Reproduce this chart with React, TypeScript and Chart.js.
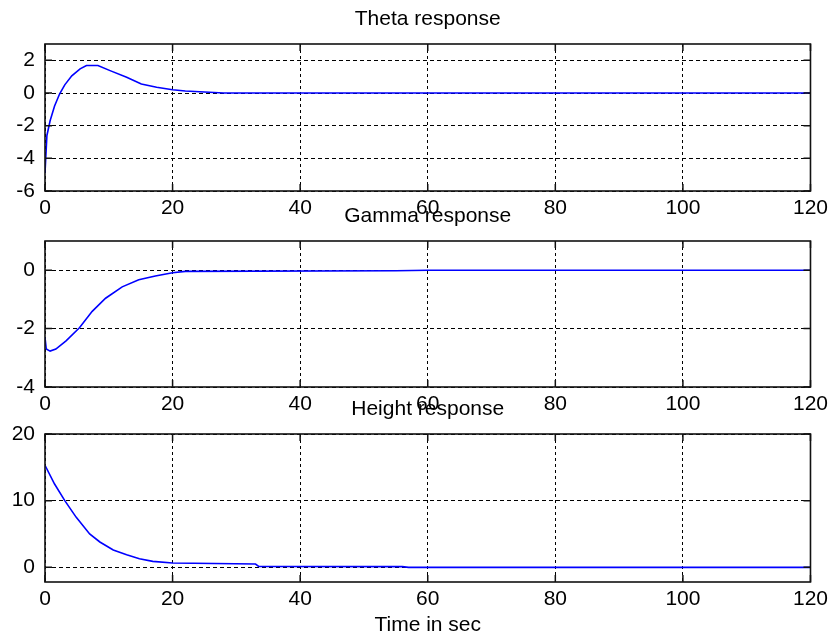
import React, { useEffect, useRef } from "react";
import { Chart, registerables } from "chart.js";

Chart.register(...registerables);

// ---- data ----
const thetaTime = [0, 0.3, 0.8, 1.5, 2.3, 3.1, 4.2, 5.5, 6.5, 8.3, 10.2, 12.8, 15.1, 17.5, 20, 22, 28, 120];
const thetaValue = [-4.9, -2.6, -1.7, -0.8, -0.05, 0.5, 1.05, 1.48, 1.68, 1.68, 1.37, 0.97, 0.55, 0.35, 0.2, 0.12, 0, 0];

const gammaTime = [0, 0.2, 0.8, 1.7, 3.3, 5.4, 7.4, 9.5, 12.1, 14.7, 17.3, 20, 22, 55, 60, 120];
const gammaValue = [-2.3, -2.7, -2.77, -2.7, -2.42, -1.97, -1.41, -0.96, -0.57, -0.33, -0.2, -0.09, -0.04, -0.02, 0, 0];

const heightTime = [0, 1.5, 3.1, 4.9, 7, 8.6, 10.7, 12.8, 14.8, 16.9, 20, 33, 33.5, 56, 57, 120];
const heightValue = [15.3, 12.5, 10, 7.5, 5, 3.8, 2.6, 1.9, 1.3, 0.9, 0.64, 0.5, 0.15, 0.1, 0, 0];

const titles = ["Theta response", "Gamma response", "Height response"];
const xLabel = "Time in sec";
const xRange = [0, 120];
const xStep = 20;
const thetaRange = [-6, 3];
const gammaRange = [-4, 1];
const heightRange = [-2.2, 20];
const yySteps = [2, 2, 10];

const FONT_FAMILY = '"Liberation Sans", Arial, Helvetica, sans-serif';
const FONT_SIZE = 21;

const framePlugin = {
  id: "matlabFrame",
  afterDatasetsDraw(chart: any, _args: any, opts: any) {
    const { ctx, chartArea: a, scales } = chart;
    const x = scales.x;
    const y = scales.y;
    ctx.save();
    ctx.strokeStyle = "#111";
    ctx.lineWidth = 1.6;
    ctx.setLineDash([]);
    ctx.strokeRect(a.left, a.top, a.right - a.left, a.bottom - a.top);
    ctx.lineWidth = 1.5;
    ctx.beginPath();
    x.ticks.forEach((t: any) => {
      const px = x.getPixelForValue(t.value);
      ctx.moveTo(px, a.bottom);
      ctx.lineTo(px, a.bottom - 7);
      ctx.moveTo(px, a.top);
      ctx.lineTo(px, a.top + 7);
    });
    y.ticks.forEach((t: any) => {
      const py = y.getPixelForValue(t.value);
      ctx.moveTo(a.left, py);
      ctx.lineTo(a.left + 7, py);
      ctx.moveTo(a.right, py);
      ctx.lineTo(a.right - 7, py);
    });
    ctx.stroke();
    ctx.fillStyle = "#000";
    ctx.font = `${FONT_SIZE}px ${FONT_FAMILY}`;
    ctx.textAlign = "center";
    ctx.textBaseline = "middle";
    const cx = (a.left + a.right) / 2;
    if (opts.title) ctx.fillText(opts.title, cx, a.top - 25);
    if (opts.xlabel) ctx.fillText(opts.xlabel, cx, a.bottom + 43);
    ctx.restore();
  },
};

function buildConfig(
  time: number[],
  values: number[],
  yRange: number[],
  yStep: number,
  title: string,
  xlabel: string | null,
  axisHeight: number
): any {
  const font = { family: FONT_FAMILY, size: FONT_SIZE };
  return {
    type: "line",
    data: {
      datasets: [
        {
          data: time.map((t, i) => ({ x: t, y: values[i] })),
          borderColor: "#0000ff",
          borderWidth: 1.6,
          pointRadius: 0,
          tension: 0,
          fill: false,
        },
      ],
    },
    options: {
      animation: false,
      responsive: false,
      devicePixelRatio: 1,
      layout: { padding: { top: 44, left: 0, right: 21, bottom: 0 } },
      plugins: {
        legend: { display: false },
        tooltip: { enabled: false },
        title: { display: false },
        matlabFrame: { title, xlabel },
      },
      scales: {
        x: {
          type: "linear",
          min: xRange[0],
          max: xRange[1],
          ticks: { stepSize: xStep, color: "#000", font, padding: 5, maxRotation: 0, includeBounds: false },
          grid: { color: "#000", lineWidth: 1, drawTicks: false },
          border: { display: false, dash: [3, 3] },
          afterFit: (s: any) => {
            s.height = axisHeight;
          },
        },
        y: {
          type: "linear",
          min: yRange[0],
          max: yRange[1],
          ticks: { stepSize: yStep, color: "#000", font, padding: 10, includeBounds: false },
          grid: { color: "#000", lineWidth: 1, drawTicks: false },
          border: { display: false, dash: [4, 3] },
          afterFit: (s: any) => {
            s.width = 45;
          },
        },
      },
    },
    plugins: [framePlugin],
  };
}

function Panel(props: { top: number; height: number; cfg: any }) {
  const ref = useRef<HTMLCanvasElement>(null);
  useEffect(() => {
    if (!ref.current) return;
    const chart = new Chart(ref.current, props.cfg);
    return () => chart.destroy();
  }, []);
  return (
    <canvas
      ref={ref}
      width={833}
      height={props.height}
      style={{ position: "absolute", left: 0, top: props.top, width: 833, height: props.height }}
    />
  );
}

export default function App() {
  return (
    <div style={{ position: "absolute", left: 0, top: 0, width: 833, height: 636, background: "#fff", overflow: "hidden" }}>
      <Panel top={0} height={220} cfg={buildConfig(thetaTime, thetaValue, thetaRange, yySteps[0], titles[0], null, 29)} />
      <Panel top={197} height={219} cfg={buildConfig(gammaTime, gammaValue, gammaRange, yySteps[1], titles[1], null, 29)} />
      <Panel top={390} height={246} cfg={buildConfig(heightTime, heightValue, heightRange, yySteps[2], titles[2], xLabel, 54)} />
    </div>
  );
}
